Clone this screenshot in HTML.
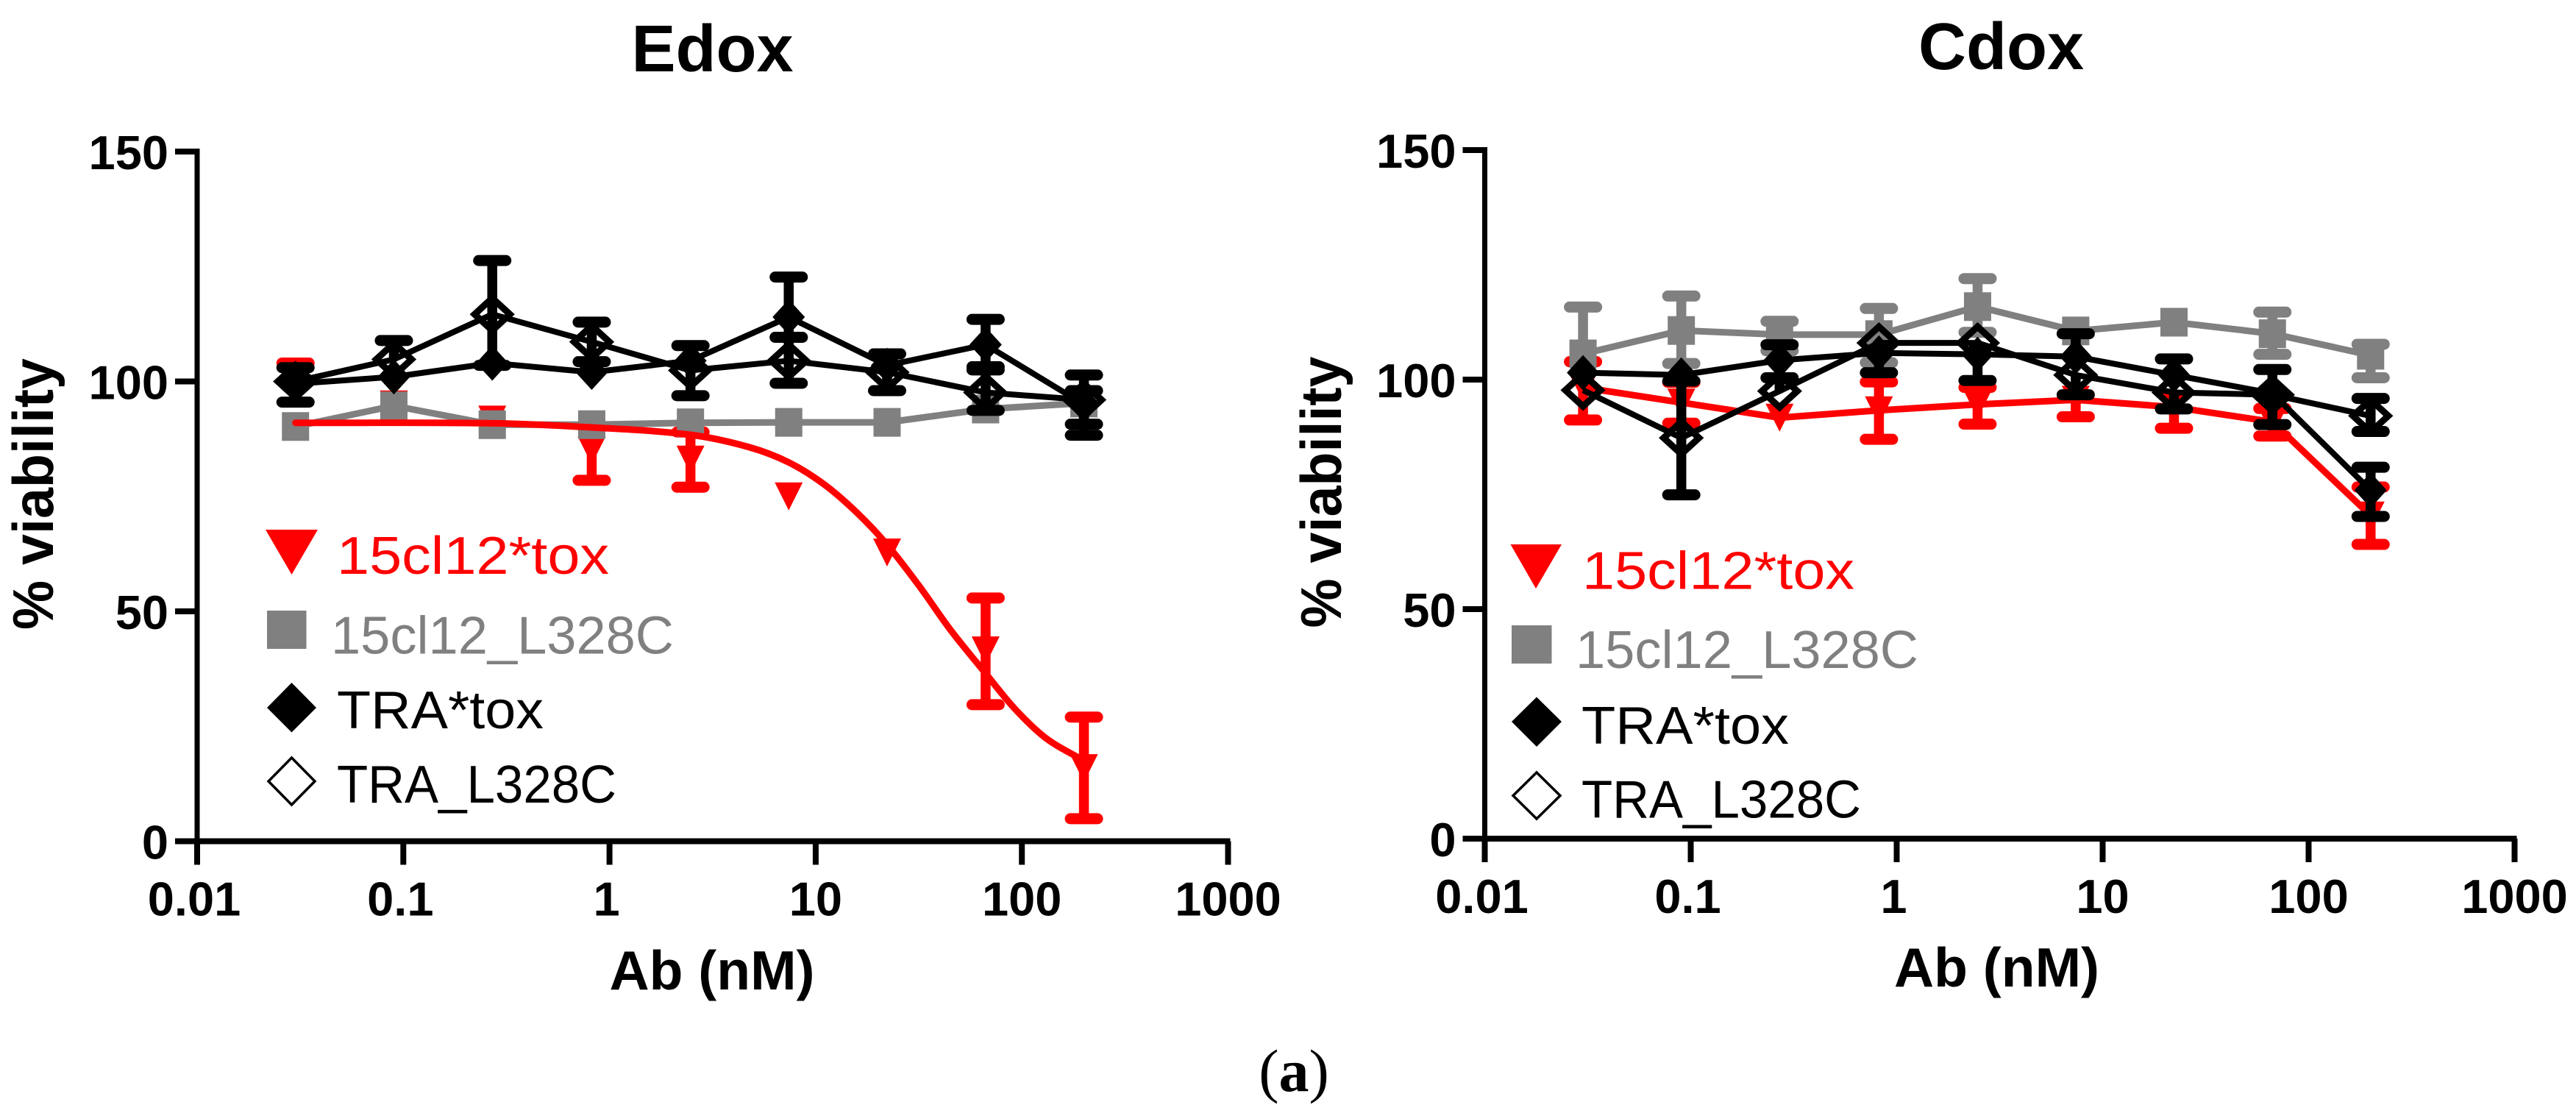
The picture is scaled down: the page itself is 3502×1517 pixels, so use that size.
<!DOCTYPE html>
<html lang="en">
<head>
<meta charset="utf-8">
<title>Edox and Cdox viability charts</title>
<style>
  html,body{margin:0;padding:0;background:#fff;}
  svg{display:block;}
  text{font-family:"Liberation Sans",sans-serif;}
  .tick{font-size:65px;font-weight:bold;fill:#000;}
  .title{font-size:90px;font-weight:bold;fill:#000;text-anchor:middle;}
  .xtitle{font-size:75px;font-weight:bold;fill:#000;text-anchor:middle;}
  .ytitle{font-size:78px;font-weight:bold;fill:#000;}
  .leg{font-size:72px;}
</style>
</head>
<body>
<svg id="fig" xmlns="http://www.w3.org/2000/svg" width="3502" height="1517" viewBox="0 0 3502 1517">
  <rect width="3502" height="1517" fill="#fff"/>
  <text class="title" x="968.5" y="97">Edox</text>
  <text class="title" x="2720.5" y="94">Cdox</text>
  <text class="xtitle" x="968" y="1345">Ab (nM)</text>
  <text class="xtitle" x="2714.5" y="1341">Ab (nM)</text>
  <text class="ytitle" transform="translate(72,856) rotate(-90)" textLength="369" lengthAdjust="spacingAndGlyphs">% viability</text>
  <text class="ytitle" transform="translate(1823,853.5) rotate(-90)" textLength="369" lengthAdjust="spacingAndGlyphs">% viability</text>

  <g>
    <polygon points="361,720 432,720 396.5,781" fill="#ff0000"/>
    <text class="leg" x="458" y="780" fill="#ff0000" textLength="370" lengthAdjust="spacingAndGlyphs">15cl12*tox</text>
    <rect x="363" y="830" width="53.5" height="52" fill="#808080"/>
    <text class="leg" x="450" y="888.5" fill="#808080" textLength="466" lengthAdjust="spacingAndGlyphs">15cl12_L328C</text>
    <polygon points="396.5,928 430,962 396.5,995.5 363,962" fill="#000"/>
    <text class="leg" x="458" y="990" fill="#000" textLength="281" lengthAdjust="spacingAndGlyphs">TRA*tox</text>
    <polygon points="396.5,1030 428,1062 396.5,1094 365,1062" fill="none" stroke="#000" stroke-width="3.5"/>
    <text class="leg" x="458" y="1091" fill="#000" textLength="380" lengthAdjust="spacingAndGlyphs">TRA_L328C</text>
  </g>
  <g>
    <polygon points="2053.5,740 2123,740 2088,800" fill="#ff0000"/>
    <text class="leg" x="2151" y="800.5" fill="#ff0000" textLength="370" lengthAdjust="spacingAndGlyphs">15cl12*tox</text>
    <rect x="2055" y="850" width="54.5" height="52" fill="#808080"/>
    <text class="leg" x="2142" y="908" fill="#808080" textLength="466" lengthAdjust="spacingAndGlyphs">15cl12_L328C</text>
    <polygon points="2089,947.5 2123,981 2089,1015 2055,981" fill="#000"/>
    <text class="leg" x="2150" y="1011" fill="#000" textLength="282" lengthAdjust="spacingAndGlyphs">TRA*tox</text>
    <polygon points="2089,1050 2121,1081.5 2089,1113 2057,1081.5" fill="none" stroke="#000" stroke-width="3.5"/>
    <text class="leg" x="2150" y="1111.5" fill="#000" textLength="380" lengthAdjust="spacingAndGlyphs">TRA_L328C</text>
  </g>
  <text x="1759" y="1483" text-anchor="middle" style="font-family:'Liberation Serif',serif;font-size:82px;">(<tspan font-weight="bold">a</tspan>)</text>
</svg>

<script>
// Shared axis data
const doses = [0.03, 0.09, 0.27, 0.82, 2.47, 7.4, 22.2, 66.7, 200];
const xTickValues = [0.01, 0.1, 1, 10, 100, 1000];
const xTickLabels = ['0.01', '0.1', '1', '10', '100', '1000'];
const yTickValues = [0, 50, 100, 150];
const yTickLabels = ['0', '50', '100', '150'];

// Edox panel values (an error limit equal to the mean means no visible cap on that side)
const edoxRedValues = [99, 95, 91.7, 85, 83, 75, 62.8, 41.5, 15.9];
const edoxRedUpper = [104, 95, 91.7, 85, 89, 75, 62.8, 52.9, 27];
const edoxRedLower = [99, 95, 91.7, 78.5, 77, 75, 62.8, 29.7, 4.9];
const edoxCurveDoses = [0.03, 0.27, 0.82, 2.47, 4.76, 7.4, 11, 15.9, 22.2, 31.8, 45, 66.7, 91.6, 130, 200];
const edoxCurveValues = [91, 90.9, 90, 88.4, 85.7, 82.4, 77.6, 71.4, 64.5, 55.5, 46, 36.5, 29, 22.5, 17.5];
const edoxGrayValues = [90.2, 94.7, 90.6, 90.6, 91, 91.1, 91.1, 94, 95.3];
const edoxGrayUpper = [90.2, 94.7, 90.6, 90.6, 91, 91.1, 91.1, 94, 95.3];
const edoxGrayLower = [90.2, 94.7, 90.6, 90.6, 91, 91.1, 91.1, 94, 95.3];
const edoxFilledValues = [99.5, 101, 104, 102, 104.5, 114, 103.5, 108, 95];
const edoxFilledUpper = [103, 101, 104, 102, 104.5, 122.7, 103.5, 113.5, 98];
const edoxFilledLower = [95.5, 101, 104, 102, 104.5, 109.6, 103.5, 103.2, 88.3];
const edoxHollowValues = [100, 104.8, 114.6, 108.6, 102.4, 104.5, 102, 97.6, 96];
const edoxHollowUpper = [100, 108.9, 126.3, 112.9, 107.8, 109.6, 106, 102.5, 101.4];
const edoxHollowLower = [100, 104.8, 103.5, 104.3, 96.9, 99.6, 98, 93.7, 90.7];

// Cdox panel values
const cdoxRedValues = [98.3, 95, 91.7, 93.3, 94.6, 95.6, 94, 90.8, 70.4];
const cdoxRedUpper = [103.9, 99.4, 91.7, 99.5, 98.3, 95.6, 94, 93.7, 76.6];
const cdoxRedLower = [91.2, 90.5, 91.7, 87, 90.3, 91.9, 89.4, 87.7, 64.1];
const cdoxGrayValues = [105.6, 110.7, 109.8, 109.8, 115.9, 110.6, 112.5, 110, 105.3];
const cdoxGrayUpper = [115.8, 118.2, 112.7, 115.5, 122, 110.6, 112.5, 114.7, 107.7];
const cdoxGrayLower = [105.6, 103.5, 106.3, 103.7, 110.3, 110.6, 112.5, 105.5, 100.4];
const cdoxFilledValues = [101.5, 101, 104.2, 105.8, 105.5, 105, 101, 97, 75.9];
const cdoxFilledUpper = [101.5, 101, 107.6, 105.8, 105.5, 110, 104.5, 102.2, 80.9];
const cdoxFilledLower = [101.5, 101, 104.2, 105.8, 105.5, 105, 101, 97, 70.2];
const cdoxHollowValues = [97.7, 87.3, 97.5, 108, 108, 101, 97.2, 96.7, 92.1];
const cdoxHollowUpper = [97.7, 99.7, 100.4, 108, 108, 101, 97.2, 96.7, 95.9];
const cdoxHollowLower = [97.7, 74.9, 97.5, 101.5, 99.8, 96.7, 93.6, 90.2, 88.7];

const NS = 'http://www.w3.org/2000/svg';
const svg = document.getElementById('fig');

function node(parent, tag, props) {
  const el = document.createElementNS(NS, tag);
  for (const k in props) el.setAttribute(k, props[k]);
  parent.appendChild(el);
  return el;
}

function makeScales(x0, decade, y0, perUnit) {
  return {
    x: function (d) { return x0 + decade * (Math.log10(d) + 2); },
    y: function (v) { return y0 - perUnit * v; }
  };
}

function drawAxes(root, prefix, s) {
  const left = s.x(xTickValues[0]);
  const right = s.x(xTickValues[xTickValues.length - 1]);
  const bottom = s.y(0);
  const top = s.y(yTickValues[yTickValues.length - 1]);
  const yAxis = node(root, 'line', {x1: left, x2: left, y1: top - 4, y2: bottom, stroke: '#000', 'stroke-width': 7});
  
  
  const xAxis = node(root, 'line', {x1: left - 30, x2: right + 3, y1: bottom, y2: bottom, stroke: '#000', 'stroke-width': 8});
  
  
  yTickValues.forEach(function (v, i) {
    const t = node(root, 'line', {x1: left - 30, x2: left, y1: s.y(v), y2: s.y(v), stroke: '#000', 'stroke-width': 8});
    
    
    const lab = node(root, 'text', {x: left - 39, y: s.y(v) + 24, 'text-anchor': 'end', 'class': 'tick'});
    lab.textContent = yTickLabels[i];
    
    
  });
  xTickValues.forEach(function (d, i) {
    const t = node(root, 'line', {x1: s.x(d), x2: s.x(d), y1: bottom, y2: bottom + 32, stroke: '#000', 'stroke-width': 8});
    
    
    const lab = node(root, 'text', {x: s.x(d) - (i < 3 ? 4 : 0), y: bottom + 101, 'text-anchor': 'middle', 'class': 'tick'});
    lab.textContent = xTickLabels[i];
    
    
  });
}

function drawErrorBars(g, s, color, values, upper, lower) {
  doses.forEach(function (d, i) {
    const px = s.x(d);
    if (upper[i] === values[i] && lower[i] === values[i]) return;
    const stem = node(g, 'line', {x1: px, x2: px, y1: s.y(upper[i]), y2: s.y(lower[i]), stroke: color, 'stroke-width': 13.5});
    
    
    [upper[i], lower[i]].forEach(function (e) {
      if (e === values[i]) return;
      const cap = node(g, 'line', {x1: px - 18.5, x2: px + 18.5, y1: s.y(e), y2: s.y(e), stroke: color, 'stroke-width': 15, 'stroke-linecap': 'round'});
      
      
    });
  });
}

function drawLine(g, s, color, width, values) {
  const pts = doses.map(function (d, i) { return s.x(d) + ',' + s.y(values[i]); }).join(' ');
  const line = node(g, 'polyline', {points: pts, fill: 'none', stroke: color, 'stroke-width': width, 'stroke-linejoin': 'round'});
  
  
}

function drawMarkers(g, s, kind, values) {
  doses.forEach(function (d, i) {
    const x = s.x(d), y = s.y(values[i]);
    let m;
    if (kind === 'triangle') {
      m = node(g, 'polygon', {points: (x - 19) + ',' + (y - 19) + ' ' + (x + 19) + ',' + (y - 19) + ' ' + x + ',' + (y + 19), fill: '#ff0000'});
    } else if (kind === 'square') {
      m = node(g, 'rect', {x: x - 18.5, y: y - 19.5, width: 37, height: 39, fill: '#808080'});
    } else if (kind === 'diamond') {
      m = node(g, 'polygon', {points: x + ',' + (y - 24) + ' ' + (x + 22) + ',' + y + ' ' + x + ',' + (y + 24) + ' ' + (x - 22) + ',' + y, fill: '#000'});
    } else {
      m = node(g, 'polygon', {points: x + ',' + (y - 22) + ' ' + (x + 24) + ',' + y + ' ' + x + ',' + (y + 22) + ' ' + (x - 24) + ',' + y, fill: 'none', stroke: '#000', 'stroke-width': 9});
    }
    
    
  });
}

function drawSeries(root, name, s, color, lineWidth, kind, values, upper, lower, connect) {
  const g = node(root, 'g', {});
  
  
  if (connect) drawLine(g, s, color, lineWidth, values);
  drawErrorBars(g, s, color, values, upper, lower);
  drawMarkers(g, s, kind, values);
}

function drawCurve(root, name, s, curveDoses, curveValues) {
  const p = curveDoses.map(function (d, i) { return [s.x(d), s.y(curveValues[i])]; });
  let path = 'M' + p[0][0] + ' ' + p[0][1];
  for (let i = 0; i < p.length - 1; i++) {
    const a = p[Math.max(i - 1, 0)], b = p[i], c = p[i + 1], e = p[Math.min(i + 2, p.length - 1)];
    const h = c[0] - b[0];
    const m1 = (c[1] - a[1]) / (c[0] - a[0]);
    const m2 = (e[1] - b[1]) / (e[0] - b[0]);
    path += 'C' + (b[0] + h / 3) + ' ' + (b[1] + m1 * h / 3) + ' ' +
      (c[0] - h / 3) + ' ' + (c[1] - m2 * h / 3) + ' ' + c[0] + ' ' + c[1];
  }
  const curve = node(root, 'path', {d: path, fill: 'none', stroke: '#ff0000', 'stroke-width': 9, 'stroke-linecap': 'round'});
  
  
}

const edoxScale = makeScales(268, 280.3, 1143.5, 6.25);
const cdoxScale = makeScales(2018.5, 280, 1140, 6.24);

const edoxPanel = node(svg, 'g', {});


drawAxes(edoxPanel, 'edox', edoxScale);
drawSeries(edoxPanel, 'edox-series-15cl12-tox', edoxScale, '#ff0000', 9, 'triangle', edoxRedValues, edoxRedUpper, edoxRedLower, false);
drawSeries(edoxPanel, 'edox-series-15cl12-l328c', edoxScale, '#808080', 9, 'square', edoxGrayValues, edoxGrayUpper, edoxGrayLower, true);
drawSeries(edoxPanel, 'edox-series-tra-tox', edoxScale, '#000', 8, 'diamond', edoxFilledValues, edoxFilledUpper, edoxFilledLower, true);
drawSeries(edoxPanel, 'edox-series-tra-l328c', edoxScale, '#000', 8, 'hollow', edoxHollowValues, edoxHollowUpper, edoxHollowLower, true);
drawCurve(edoxPanel, 'edox-fit-curve-15cl12-tox', edoxScale, edoxCurveDoses, edoxCurveValues);

const cdoxPanel = node(svg, 'g', {});


drawAxes(cdoxPanel, 'cdox', cdoxScale);
drawSeries(cdoxPanel, 'cdox-series-15cl12-tox', cdoxScale, '#ff0000', 9, 'triangle', cdoxRedValues, cdoxRedUpper, cdoxRedLower, true);
drawSeries(cdoxPanel, 'cdox-series-15cl12-l328c', cdoxScale, '#808080', 9, 'square', cdoxGrayValues, cdoxGrayUpper, cdoxGrayLower, true);
drawSeries(cdoxPanel, 'cdox-series-tra-tox', cdoxScale, '#000', 8, 'diamond', cdoxFilledValues, cdoxFilledUpper, cdoxFilledLower, true);
drawSeries(cdoxPanel, 'cdox-series-tra-l328c', cdoxScale, '#000', 8, 'hollow', cdoxHollowValues, cdoxHollowUpper, cdoxHollowLower, true);
</script>
</body>
</html>
